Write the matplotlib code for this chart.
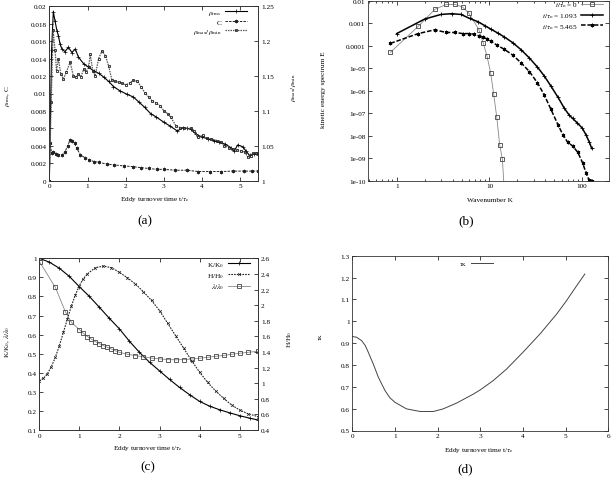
import matplotlib
matplotlib.use('Agg')
import matplotlib.pyplot as plt
from matplotlib.ticker import LogLocator, NullLocator, NullFormatter

plt.rcParams['font.family'] = 'serif'
plt.rcParams['font.serif'] = ['Liberation Serif', 'DejaVu Serif']
plt.rcParams['mathtext.fontset'] = 'stix'

# ---------------- data: panel (a) ----------------
t_rms = [0, 0.06, 0.105, 0.15, 0.2, 0.24, 0.28, 0.33, 0.41, 0.5, 0.59, 0.68, 0.76, 0.9, 1.0,
         1.16, 1.3, 1.42, 1.55, 1.68, 1.85, 2.04, 2.2, 2.35, 2.5, 2.65, 2.8, 3.0, 3.15, 3.35,
         3.5, 3.6, 3.7, 3.85, 4.0, 4.15, 4.3, 4.45, 4.6, 4.75, 4.84, 4.93, 5.06, 5.15, 5.24,
         5.37, 5.47]
rho_rms = [0, 0.0150, 0.0194, 0.0183, 0.0172, 0.0166, 0.0157, 0.0151, 0.0148, 0.0153, 0.0147,
           0.0151, 0.0142, 0.0134, 0.0131, 0.0126, 0.0123, 0.0119, 0.0114, 0.0108, 0.0103,
           0.0099, 0.0096, 0.0090, 0.0084, 0.0077, 0.0073, 0.0067, 0.0063, 0.0057, 0.0061,
           0.0060, 0.0059, 0.0053, 0.0050, 0.0048, 0.0046, 0.0044, 0.0042, 0.0038, 0.0034,
           0.0041, 0.0039, 0.0034, 0.0029, 0.0031, 0.0030]

t_c = [0, 0.02, 0.06, 0.105, 0.18, 0.24, 0.33, 0.41, 0.48, 0.545, 0.6, 0.66, 0.72, 0.81, 0.94,
       1.05, 1.16, 1.3, 1.51, 1.7, 1.95, 2.2, 2.39, 2.6, 2.83, 3.0, 3.3, 3.6, 3.9, 4.2, 4.5,
       4.8, 5.1, 5.3, 5.47]
c_val = [0, 0.0043, 0.0032, 0.0033, 0.0031, 0.0030, 0.0029, 0.0033, 0.0040, 0.0047, 0.0046,
         0.0043, 0.0037, 0.0030, 0.0026, 0.0024, 0.0022, 0.0021, 0.0019, 0.0018, 0.0017,
         0.0016, 0.0015, 0.0014, 0.0013, 0.0013, 0.0012, 0.0012, 0.00105, 0.00105, 0.00105,
         0.0011, 0.0011, 0.0011, 0.0011]

t_ratio = [0, 0.05, 0.1, 0.15, 0.19, 0.24, 0.3, 0.37, 0.45, 0.545, 0.63, 0.7, 0.76, 0.83, 0.9,
           0.96, 1.03, 1.07, 1.14, 1.2, 1.29, 1.38, 1.47, 1.55, 1.64, 1.73, 1.82, 1.9, 2.0,
           2.1, 2.2, 2.3, 2.4, 2.5, 2.6, 2.7, 2.8, 2.9, 3.0, 3.1, 3.18, 3.31, 3.42, 3.53, 3.7,
           3.8, 3.88, 4.01, 4.12, 4.23, 4.4, 4.5, 4.58, 4.7, 4.8, 4.92, 5.02, 5.12, 5.19, 5.27,
           5.33, 5.42, 5.47]
ratio = [1.0, 1.1125, 1.216, 1.1875, 1.1575, 1.175, 1.1525, 1.146, 1.156, 1.17, 1.15, 1.149,
         1.1525, 1.149, 1.16, 1.156, 1.1625, 1.181, 1.1575, 1.15, 1.175, 1.186, 1.179, 1.165,
         1.144, 1.1425, 1.141, 1.14, 1.1375, 1.14, 1.144, 1.1425, 1.135, 1.126, 1.12, 1.114,
         1.111, 1.1075, 1.1, 1.096, 1.091, 1.079, 1.076, 1.075, 1.075, 1.071, 1.0625, 1.065,
         1.061, 1.06, 1.0575, 1.055, 1.05, 1.0475, 1.045, 1.044, 1.0425, 1.041, 1.034, 1.036,
         1.039, 1.04, 1.039]

# ---------------- data: panel (b) ----------------
k_t0 = [0.855, 1.71, 2.57, 3.42, 4.27, 5.13, 5.98, 7.7, 8.6, 9.4, 10.3, 11.1, 12.0, 12.9,
        13.8, 14.6]
e_t0 = [5e-5, 7.2e-4, 4.0e-3, 6.7e-3, 6.7e-3, 5.1e-3, 2.8e-3, 5.1e-4, 1.24e-4, 3.5e-5,
        6.3e-6, 7.3e-7, 6.6e-8, 4.0e-9, 9e-10, 2e-11]

k_t1 = [1.0, 2.0, 3.0, 3.9, 4.95, 6.1, 7.5, 9.0, 10.5, 12.3, 14.5, 17.8, 22, 27, 33, 39, 46,
        55, 64, 72, 79, 88, 100, 110, 120, 127]
e_t1 = [3.4e-4, 1.5e-3, 2.4e-3, 2.6e-3, 2.4e-3, 1.6e-3, 1.15e-3, 7.5e-4, 5.2e-4, 3.6e-4,
        2.4e-4, 1.35e-4, 6.5e-5, 2.8e-5, 1.1e-5, 4.5e-6, 1.6e-6, 5e-7, 1.7e-7, 8.5e-8,
        5.8e-8, 3.8e-8, 2.2e-8, 1.1e-8, 5e-9, 2.7e-9]

k_t5 = [0.855, 1.71, 2.57, 3.42, 4.27, 5.13, 5.98, 6.84, 7.7, 8.55, 9.4, 10.3, 12.0, 14.5,
        17.8, 22, 27, 33, 39, 46, 55, 62, 70, 79, 90, 101, 110, 119, 124, 128]
e_t5 = [1.25e-4, 3.4e-4, 5.0e-4, 3.8e-4, 3.8e-4, 3.4e-4, 3.4e-4, 3.2e-4, 2.7e-4, 2.3e-4,
        2.0e-4, 1.6e-4, 1.05e-4, 6.8e-5, 3.8e-5, 1.7e-5, 7e-6, 2.2e-6, 6.5e-7, 1.5e-7,
        3e-8, 1.1e-8, 5e-9, 3.5e-9, 1.8e-9, 6.3e-10, 2.3e-10, 1.05e-10, 1.0e-10, 1.0e-10]

# ---------------- data: panel (c) ----------------
t_k = [0, 0.25, 0.5, 0.75, 1.0, 1.25, 1.5, 1.75, 2.0, 2.25, 2.5, 2.75, 3.0, 3.25, 3.5, 3.75,
       4.0, 4.25, 4.5, 4.75, 5.0, 5.25, 5.465]
k_ratio = [1.0, 0.98, 0.948, 0.905, 0.851, 0.80, 0.743, 0.685, 0.63, 0.565, 0.507, 0.455,
           0.41, 0.365, 0.323, 0.285, 0.25, 0.225, 0.206, 0.19, 0.175, 0.162, 0.152]

t_h = [0, 0.1, 0.2, 0.3, 0.4, 0.5, 0.6, 0.7, 0.8, 0.9, 1.0, 1.1, 1.2, 1.4, 1.6, 1.8, 2.0, 2.2,
       2.4, 2.6, 2.8, 3.0, 3.2, 3.4, 3.6, 3.8, 4.0, 4.2, 4.4, 4.6, 4.8, 5.0, 5.2, 5.465]
h_ratio = [1.03, 1.06, 1.12, 1.21, 1.33, 1.48, 1.65, 1.82, 1.99, 2.13, 2.25, 2.34, 2.40, 2.48,
           2.50, 2.48, 2.42, 2.35, 2.27, 2.17, 2.06, 1.93, 1.77, 1.61, 1.45, 1.29, 1.14, 1.01,
           0.90, 0.805, 0.72, 0.656, 0.61, 0.57]

t_lam = [0, 0.01, 0.4, 0.65, 0.8, 1.0, 1.1, 1.2, 1.3, 1.4, 1.5, 1.6, 1.7, 1.8, 1.9, 2.0, 2.2,
         2.4, 2.6, 2.8, 3.0, 3.2, 3.4, 3.6, 3.8, 4.0, 4.2, 4.4, 4.6, 4.8, 5.0, 5.2, 5.465]
lam_ratio = [1.0, 0.98, 0.848, 0.72, 0.665, 0.626, 0.607, 0.59, 0.576, 0.563, 0.552, 0.542,
             0.533, 0.524, 0.515, 0.507, 0.497, 0.49, 0.483, 0.477, 0.473, 0.469, 0.468,
             0.469, 0.472, 0.476, 0.481, 0.486, 0.491, 0.497, 0.502, 0.507, 0.513]

# ---------------- data: panel (d) ----------------
t_tau = [0, 0.1, 0.22, 0.3, 0.375, 0.49, 0.61, 0.766, 0.88, 1.0, 1.27, 1.59, 1.9, 2.13, 2.45,
         2.84, 3.0, 3.3, 3.62, 4.0, 4.4, 4.79, 5.02, 5.26, 5.45]
tau_k = [0.93, 0.927, 0.911, 0.89, 0.858, 0.805, 0.744, 0.683, 0.65, 0.629, 0.599, 0.587,
         0.587, 0.599, 0.626, 0.667, 0.686, 0.728, 0.782, 0.858, 0.942, 1.033, 1.094, 1.163,
         1.216]

FS = 5.2
AST = (6, 2, 0)

fig = plt.figure(figsize=(6.16, 4.81), dpi=100)


def px_axes(l, t, r, b):
    return fig.add_axes([l / 616, 1 - b / 481, (r - l) / 616, (b - t) / 481])


def style(ax, **kw):
    ax.tick_params(which='both', direction='in', width=0.5, labelsize=FS, pad=2, **kw)
    ax.tick_params(which='major', length=2.8)
    ax.tick_params(which='minor', length=1.6)
    for s in ax.spines.values():
        s.set_linewidth(0.6)
        s.set_color('#333333')


def ftext(x, y, s, size=FS, **kw):
    fig.text(x / 616, 1 - y / 481, s, ha='center', va='center', fontsize=size, **kw)


def legend(ax, handles, anchor):
    ax.legend(handles=handles, loc='upper right', bbox_to_anchor=anchor, frameon=False,
              markerfirst=False, fontsize=FS, borderpad=0, borderaxespad=0,
              handlelength=3.0, handletextpad=0.5, labelspacing=0.25)


# ---------------- panel (a) ----------------
ax = px_axes(49.3, 7.3, 258.3, 181.7)
ax2 = ax.twinx()
ax.set_xlim(0, 5.47)
ax.set_ylim(0, 0.02)
ax2.set_ylim(1, 1.25)
yt = [0, 0.002, 0.004, 0.006, 0.008, 0.01, 0.012, 0.014, 0.016, 0.018, 0.02]
ax.set_yticks(yt, ['0', '0.002', '0.004', '0.006', '0.008', '0.01', '0.012', '0.014',
                   '0.016', '0.018', '0.02'])
ax.set_xticks([0, 1, 2, 3, 4, 5], ['0', '1', '2', '3', '4', '5'])
ax2.set_yticks([1, 1.05, 1.1, 1.15, 1.2, 1.25], ['1', '1.05', '1.1', '1.15', '1.2', '1.25'])
style(ax, top=True, right=False)
style(ax2, right=True)
l1, = ax.plot(t_rms, rho_rms, '-', color='k', lw=0.8, marker='+', ms=2.5, mew=0.5,
              label=r'$\rho_{\rm rms}$')
l2, = ax.plot(t_c, c_val, ls=(0, (2.5, 1.2)), color='#222222', lw=0.7, marker=AST, ms=2.5,
              mew=0.5, label='C')
l3, = ax2.plot(t_ratio, ratio, ls=(0, (1.2, 0.8)), color='#555555', lw=0.9, marker='s',
               mfc='none', mec='#222222', ms=1.9, mew=0.6, label=r'$\rho_{\rm max}/\rho_{\rm min}$')
legend(ax2, [l1, l2, l3], (0.945, 0.985))
ftext(7, 96, r'$\rho_{\rm rms}$, C', rotation=90)
ftext(293, 88, r'$\rho_{\rm max}/\rho_{\rm min}$', rotation=90)
ftext(155, 200, r'Eddy turnover time t/$\tau_{\rm e}$')
ftext(145, 221, '(a)', size=9.5)

# ---------------- panel (b) ----------------
bx = px_axes(368, 1.5, 609, 181.7)
bx.set_xscale('log')
bx.set_yscale('log')
bx.set_xlim(0.49, 195)
bx.set_ylim(1e-10, 1e-2)
bx.set_xticks([1, 10, 100], ['1', '10', '100'])
bx.xaxis.set_minor_locator(LogLocator(base=10, subs=[2, 3, 4, 5, 6, 7, 8, 9]))
bx.xaxis.set_minor_formatter(NullFormatter())
bx.set_yticks([1e-10, 1e-9, 1e-8, 1e-7, 1e-6, 1e-5, 1e-4, 1e-3, 1e-2],
              ['1e-10', '1e-09', '1e-08', '1e-07', '1e-06', '1e-05', '0.0001', '0.001', '0.01'])
bx.yaxis.set_minor_locator(NullLocator())
style(bx, top=True, right=True)
m1, = bx.plot(k_t0, e_t0, '-', color='#888888', lw=0.6, marker='s', mfc='none', mec='#444444',
              ms=3.2, mew=0.6, label=r'$t/\tau_{\rm o}$ = 0')
m2, = bx.plot(k_t1, e_t1, '-', color='k', lw=1.1, marker='+', ms=2.6, mew=0.6,
              label=r'$t/\tau_{\rm o}$ = 1.093')
m3, = bx.plot(k_t5, e_t5, ls=(0, (3, 1.2)), color='k', lw=1.1, marker=AST, ms=2.6, mew=0.6,
              label=r'$t/\tau_{\rm o}$ = 5.465')
legend(bx, [m1, m2, m3], (0.975, 1.0))
ftext(324, 90, 'kinetic energy spectrum E', rotation=90)
ftext(490, 200, 'Wavenumber K')
ftext(466, 221, '(b)', size=9.5)

# ---------------- panel (c) ----------------
cx = px_axes(39.3, 259.3, 258.3, 431)
cx2 = cx.twinx()
cx.set_xlim(0, 5.465)
cx.set_ylim(0.1, 1.0)
cx2.set_ylim(0.4, 2.6)
cx.set_xticks([0, 1, 2, 3, 4, 5], ['0', '1', '2', '3', '4', '5'])
cx.set_yticks([0.1, 0.2, 0.3, 0.4, 0.5, 0.6, 0.7, 0.8, 0.9, 1.0],
              ['0.1', '0.2', '0.3', '0.4', '0.5', '0.6', '0.7', '0.8', '0.9', '1'])
cx2.set_yticks([0.4, 0.6, 0.8, 1.0, 1.2, 1.4, 1.6, 1.8, 2.0, 2.2, 2.4, 2.6],
               ['0.4', '0.6', '0.8', '1', '1.2', '1.4', '1.6', '1.8', '2', '2.2', '2.4', '2.6'])
style(cx, top=True, right=False)
style(cx2, right=True)
n1, = cx.plot(t_k, k_ratio, '-', color='k', lw=0.8, marker='+', ms=2.5, mew=0.5,
              label=r'K/K$_0$')
n3, = cx.plot(t_lam, lam_ratio, '-', color='#888888', lw=0.6, marker='s', mfc='none',
              mec='#444444', ms=2.3, mew=0.6, label=r'$\lambda/\lambda_0$')
n2, = cx2.plot(t_h, h_ratio, ls=(0, (1.5, 1.0)), color='#222222', lw=0.8, marker='x', ms=2.0,
               mew=0.5, label=r'H/H$_0$')
legend(cx2, [n1, n2, n3], (0.96, 0.99))
ftext(7, 342, r'K/K$_0$, $\lambda/\lambda_0$', rotation=90)
ftext(290, 340, r'H/H$_0$', rotation=90)
ftext(148, 449, r'Eddy turnover time t/$\tau_{\rm e}$')
ftext(148, 467, '(c)', size=9.5)

# ---------------- panel (d) ----------------
dx = px_axes(352.3, 256.7, 608.3, 431.5)
dx.set_xlim(0, 6)
dx.set_ylim(0.5, 1.3)
dx.set_xticks([0, 1, 2, 3, 4, 5, 6], ['0', '1', '2', '3', '4', '5', '6'])
dx.set_yticks([0.5, 0.6, 0.7, 0.8, 0.9, 1.0, 1.1, 1.2, 1.3],
              ['0.5', '0.6', '0.7', '0.8', '0.9', '1', '1.1', '1.2', '1.3'])
style(dx, top=True, right=True)
p1, = dx.plot(t_tau, tau_k, '-', color='#444444', lw=0.7, label=r'$\tau_{\rm K}$')
legend(dx, [p1], (0.55, 0.975))
ftext(321, 337, r'$\tau_{\rm K}$', rotation=90)
ftext(479, 451, r'Eddy turnover time t/$\tau_{\rm e}$')
ftext(465, 469, '(d)', size=9.5)

fig.savefig('out.png', dpi=100)
